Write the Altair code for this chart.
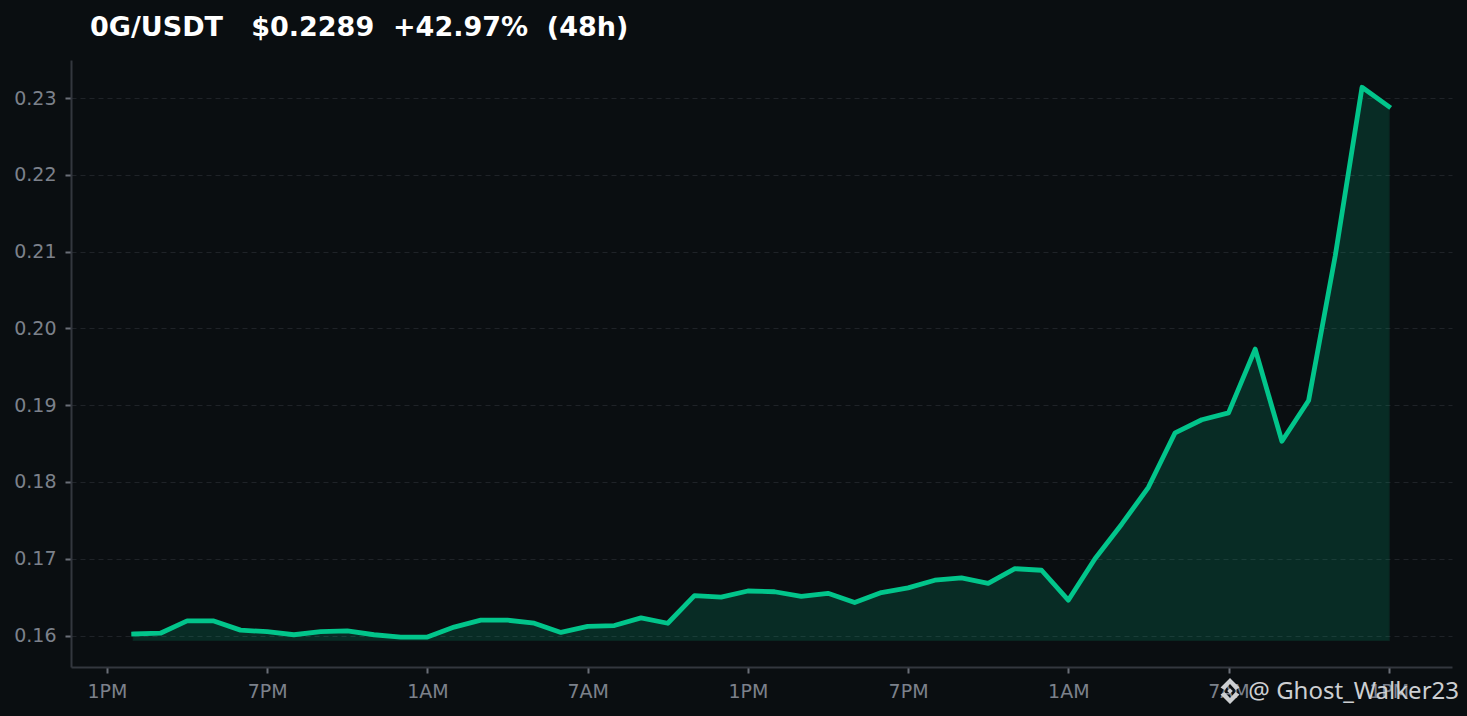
import altair as alt
import pandas as pd

TITLE = "0G/USDT\u00a0\u00a0\u00a0$0.2289\u00a0\u00a0+42.97%\u00a0\u00a0(48h)"
WATERMARK = "@ Ghost_Walker23"
hours = list(range(1, 49))
prices = [
    .1602, .1603, .1619, .1619, .1607, .1605, .1601, .1605, .1606, .1601,
    .1598, .1598, .1611, .1620, .1620, .1616, .1604, .1612, .1613, .1623,
    .1616, .1652, .1650, .1658, .1657, .1651, .1655, .1643, .1656, .1662,
    .1672, .1675, .1668, .1687, .1685, .1646, .1700, .1745, .1793, .1864,
    .1881, .1890, .1973, .1853, .1906, .2095, .2314, .2289,
]
base_price = 0.15941
y_ticks = [0.16, 0.17, 0.18, 0.19, 0.20, 0.21, 0.22, 0.23]
x_ticks = [0, 6, 12, 18, 24, 30, 36, 42, 48]
x_labels = ["1PM", "7PM", "1AM", "7AM", "1PM", "7PM", "1AM", "7AM", "1PM"]

BG = "#0a0e11"
GREEN = "#02c58b"
AXIS = "#33373e"
TICK = "#6a6f78"
LABEL = "#7c818b"
GRID = "#1f2328"

df = pd.DataFrame({"hour": hours, "price": prices, "base": base_price})

x_scale = alt.Scale(domain=[-1.348, 50.37], nice=False, zero=False)
y_scale = alt.Scale(domain=[0.1559, 0.23495], nice=False, zero=False)

label_expr = "[" + ",".join(f"'{s}'" for s in x_labels) + "][datum.value/6]"

x_axis = alt.Axis(values=x_ticks, labelExpr=label_expr, title=None, grid=False,
                  domainColor=AXIS, domainWidth=2, tickColor=TICK, tickWidth=2, tickSize=6,
                  labelColor=LABEL, labelFontSize=19, labelFont="DejaVu Sans", labelPadding=9)
y_axis = alt.Axis(values=y_ticks, format=".2f", title=None, grid=True, gridColor=GRID,
                  gridDash=[5, 4], gridWidth=1, domainColor=AXIS, domainWidth=2,
                  tickColor=TICK, tickWidth=2, tickSize=6, labelColor=LABEL,
                  labelFontSize=19, labelFont="DejaVu Sans", labelPadding=9)

area = alt.Chart(df).mark_area(color=GREEN, opacity=0.16, stroke=GREEN, strokeWidth=2, strokeOpacity=0.8).encode(
    x=alt.X("hour:Q", scale=x_scale, axis=x_axis),
    y=alt.Y("price:Q", scale=y_scale, axis=y_axis),
    y2="base:Q",
)
line = alt.Chart(df).mark_line(color=GREEN, strokeWidth=4.8, strokeJoin="round", strokeCap="square").encode(
    x=alt.X("hour:Q", scale=x_scale),
    y=alt.Y("price:Q", scale=y_scale),
)
wm_df = pd.DataFrame({"t": [WATERMARK]})
watermark = alt.Chart(wm_df).mark_text(
    align="right", baseline="middle", fontSize=24, font="Noto Sans", color="#cdcfd2", clip=False
).encode(text="t:N", x=alt.value(1388), y=alt.value(632))

logo_path = ("M0,-1.3 L0.95,-0.35 L0.55,-0.1 L0,-0.7 L-0.55,-0.1 L-0.95,-0.35 Z "
             "M0,1.3 L0.95,0.35 L0.55,0.1 L0,0.7 L-0.55,0.1 L-0.95,0.35 Z "
             "M0,-0.28 L0.28,0 L0,0.28 L-0.28,0 Z")
logo = alt.Chart(wm_df).mark_point(
    shape=logo_path, filled=True, color="#cdcfd2", opacity=1, size=400, clip=False
).encode(x=alt.value(1159), y=alt.value(631))

chart = alt.layer(area, line, watermark, logo).properties(
    width=1381, height=607,
    background=BG,
    autosize=alt.AutoSizeParams(type="none"),
    padding={"left": 63, "top": 52, "right": 7, "bottom": 41},
    title=alt.TitleParams(TITLE, anchor="start", frame="group", color="#ffffff", fontSize=27,
                          font="DejaVu Sans", fontWeight="bold", dx=19, offset=18),
).configure_view(stroke=None)

chart.save("out.html", embed_options={"renderer": "svg", "actions": False,
                                      "defaultStyle": "html,body{background:#0a0e11;}"})
